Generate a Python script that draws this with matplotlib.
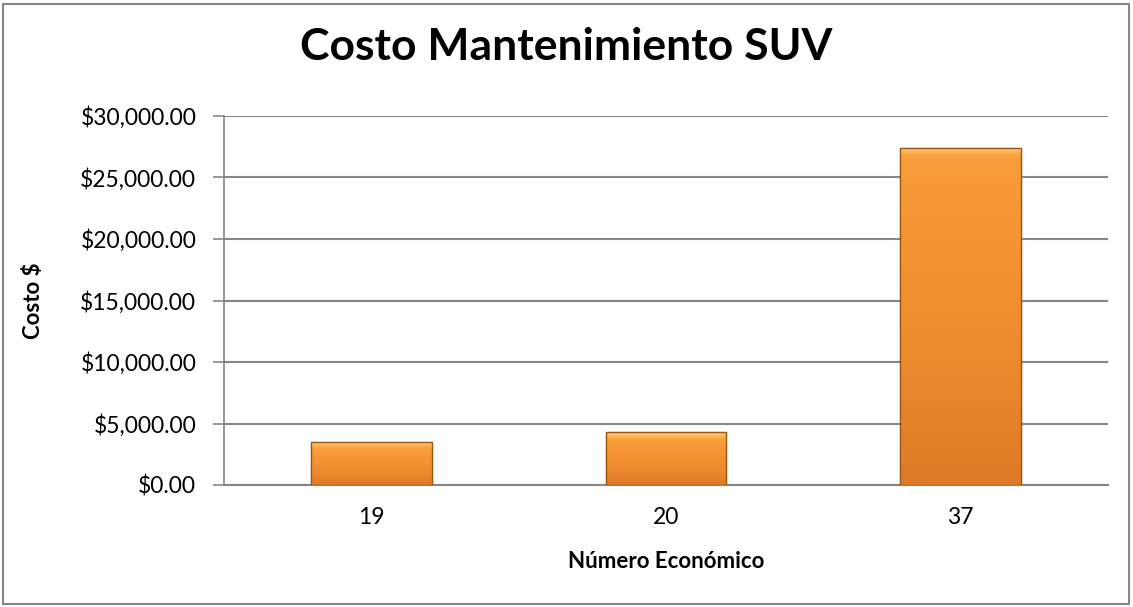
import matplotlib
matplotlib.use("Agg")
import matplotlib.pyplot as plt
import numpy as np
from matplotlib.patches import Rectangle
from matplotlib.colors import LinearSegmentedColormap

categories = ["19", "20", "37"]
costs = [3500, 4300, 27400]
yticks = [0, 5000, 10000, 15000, 20000, 25000, 30000]

plt.rcParams['font.family'] = ['Lato', 'DejaVu Sans']

W, H = 1133, 607
fig = plt.figure(figsize=(W/100, H/100), dpi=100)
fig.patches.append(Rectangle((3/W, 3/H), (W-7)/W, (H-7)/H, transform=fig.transFigure,
                             fill=False, edgecolor='#868686', linewidth=1.5))

ax = fig.add_axes([224/W, 1-485/H, (1108-224)/W, (485-116)/H])
x = np.arange(len(categories))
bars = ax.bar(x, costs, width=0.41, color='#F79433', edgecolor='#8a4a10', linewidth=0.8, zorder=3)

cmap = LinearSegmentedColormap.from_list('o', ['#FDD27A', '#F9A23E', '#F79433', '#EE8A2E', '#DE7A27'])
for b in bars:
    x0, y0 = b.get_x(), b.get_y()
    w, h = b.get_width(), b.get_height()
    grad = np.linspace(0, 1, 256).reshape(-1, 1)
    frac_hl = min(0.25, 10 / (h / 30000 * 369))
    v = np.where(grad < frac_hl, grad / frac_hl * 0.35, 0.35 + (grad - frac_hl) / (1 - frac_hl) * 0.65)
    im = ax.imshow(v, extent=(x0, x0 + w, y0, y0 + h), aspect='auto', cmap=cmap,
                   vmin=0, vmax=1, zorder=3.5, origin='upper')
    im.set_clip_path(b)
    ax.add_patch(Rectangle((x0, y0), w, h, fill=False, edgecolor='#9a5515', linewidth=1.0, zorder=4))

ax.set_xlim(-0.5, len(categories) - 0.5)
ax.set_ylim(0, 30000)
ax.set_yticks(yticks)
ax.set_yticklabels([f"${v:,.2f}" for v in yticks], fontsize=16.5)
ax.set_xticks(x)
ax.set_xticklabels(categories, fontsize=16.5)
ax.tick_params(axis='x', length=0, pad=16)
ax.tick_params(axis='y', length=8, width=1.2, color='#868686', pad=12)
ax.grid(axis='y', color='#868686', linewidth=1.5, zorder=0)
for s in ['top', 'right']:
    ax.spines[s].set_visible(False)
ax.spines['left'].set_color('#868686')
ax.spines['left'].set_linewidth(1.2)
ax.spines['bottom'].set_color('#868686')
ax.spines['bottom'].set_linewidth(1.5)

ax.set_ylabel("Costo $", fontsize=16, fontweight='bold')
ax.yaxis.set_label_coords((33 - 224) / 884, 0.5)
ax.set_xlabel("Número Económico", fontsize=16, fontweight='bold')
ax.xaxis.set_label_coords(0.5, (485 - 561) / 369)
ax.xaxis.label.set_va('center')
ax.yaxis.label.set_va('center')
fig.text(566/W, 1-47/H, "Costo Mantenimiento SUV", ha='center', va='center',
         fontsize=32, fontweight='bold')

fig.savefig("out.png", dpi=100)
